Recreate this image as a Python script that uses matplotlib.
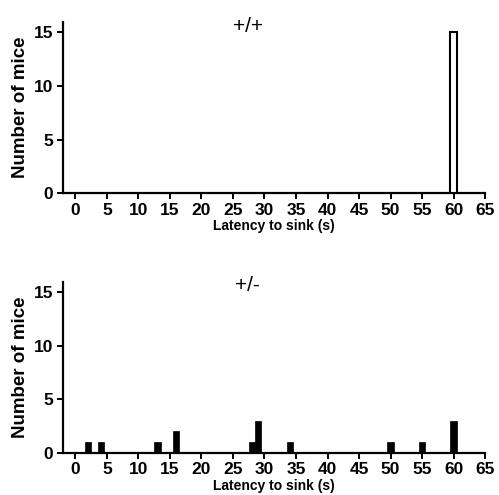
import matplotlib
matplotlib.use("Agg")
import matplotlib.pyplot as plt

plt.rcParams['font.family'] = ['Liberation Sans', 'DejaVu Sans']

xticks = [0, 5, 10, 15, 20, 25, 30, 35, 40, 45, 50, 55, 60, 65]
yticks = [0, 5, 10, 15]

wt_latency = [60]
wt_counts = [15]

het_latency = [2, 4, 13, 16, 28, 29, 34, 50, 55, 60]
het_counts = [1, 1, 1, 2, 1, 3, 1, 1, 1, 3]

fig = plt.figure(figsize=(4.99, 4.95), dpi=100)
ax1 = fig.add_axes([0.126, 0.610, 0.846, 0.346])
ax2 = fig.add_axes([0.126, 0.0855, 0.846, 0.3455])

def style(ax, title):
    ax.set_xlim(-2, 65)
    ax.set_ylim(0, 16)
    ax.set_xticks(xticks)
    ax.set_yticks(yticks)
    for s in ['top', 'right']:
        ax.spines[s].set_visible(False)
    for s in ['left', 'bottom']:
        ax.spines[s].set_linewidth(1.6)
    ax.tick_params(direction='out', length=4, width=1.4, labelsize=12.5, pad=3)
    for lab in ax.get_xticklabels() + ax.get_yticklabels():
        lab.set_fontweight('bold')
    ax.set_xlabel('Latency to sink (s)', fontsize=10, fontweight='bold', labelpad=1)
    ax.set_ylabel('Number of mice', fontsize=13.5, fontweight='bold', labelpad=3)
    ax.text(0.438, 0.975, title, transform=ax.transAxes, ha='center', va='center',
            fontsize=15)

ax1.bar(wt_latency, wt_counts, width=1.0, color='white', edgecolor='black', linewidth=1.5, zorder=3)
ax2.bar(het_latency, het_counts, width=1.0, color='black', edgecolor='black', linewidth=0.5, zorder=3)

style(ax1, '+/+')
style(ax2, '+/-')

fig.savefig('out.png', dpi=100)
